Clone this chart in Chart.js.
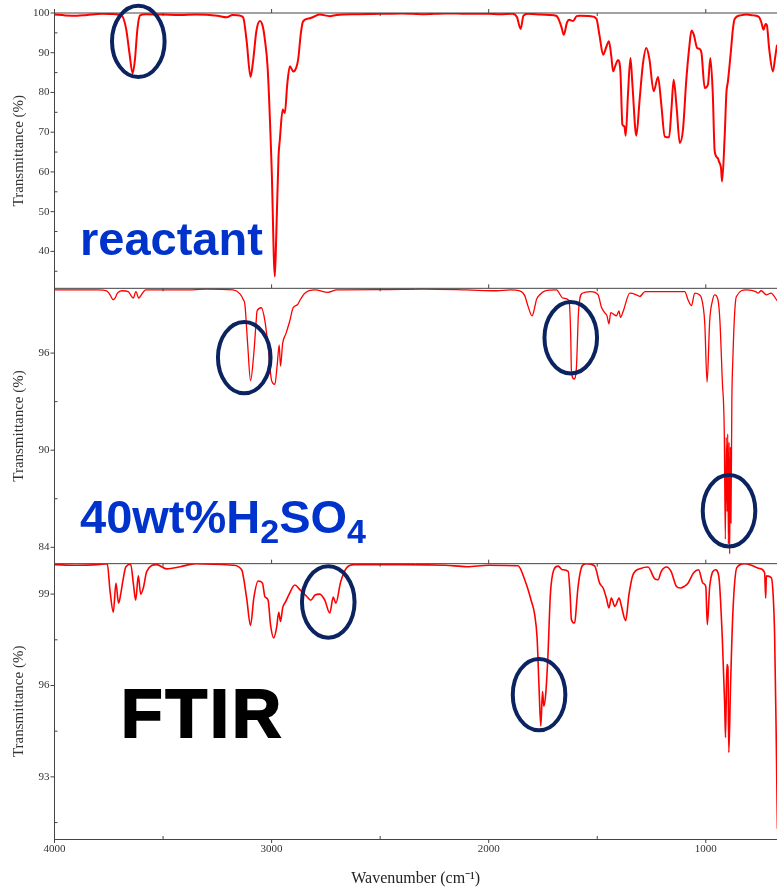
<!DOCTYPE html>
<html>
<head>
<meta charset="utf-8">
<script src="https://cdn.jsdelivr.net/npm/chart.js@4"></script>
<style>
  body { margin: 0; background: #fff; }
  #wrap { position: relative; width: 777px; height: 889px; }
  #myChart { display: block; }
  .tag { position: absolute; font-family: 'Liberation Sans', Arial, sans-serif; font-weight: bold; line-height: 1; white-space: nowrap; }
  .tag sub { font-size: 34px; vertical-align: baseline; position: relative; top: 10px; }
</style>
</head>
<body>
<div id="wrap">
  <canvas id="myChart" width="777" height="889"></canvas>
  <div class="tag" style="left:80px; top:215px; font-size:47px; color:#0033cc;">reactant</div>
  <div class="tag" style="left:80px; top:493px; font-size:47px; color:#0033cc;">40wt%H<sub>2</sub>SO<sub>4</sub></div>
  <div class="tag" style="left:121px; top:679px; font-size:68px; color:#000; letter-spacing:3px; -webkit-text-stroke:2px #000;">FTIR</div>
</div>
<script>
// tick values
const wnTicks = [4000, 3500, 3000, 2500, 2000, 1500, 1000];
const reactantTicks = [40, 50, 60, 70, 80, 90, 100];
const acidTicks = [84, 90, 96];
const ftirTicks = [93, 96, 99];

// reactant spectrum
const reactantWn = [4000, 3950, 3896, 3850, 3780, 3720, 3690, 3670, 3655, 3640, 3630, 3618, 3606, 3580, 3500, 3420, 3350, 3250, 3207, 3180, 3150, 3131, 3115, 3097, 3085, 3070, 3054, 3040, 3031, 3018, 3000, 2985, 2978, 2968, 2962, 2949, 2939, 2928, 2916, 2900, 2893, 2878, 2865, 2855, 2830, 2808, 2778, 2732, 2700, 2600, 2500, 2400, 2300, 2200, 2100, 2000, 1950, 1890, 1870, 1853, 1840, 1820, 1760, 1720, 1690, 1681, 1665, 1654, 1640, 1630, 1611, 1595, 1581, 1530, 1504, 1490, 1473, 1458, 1446, 1435, 1427, 1415, 1404, 1393, 1384, 1375, 1369, 1358, 1347, 1338, 1320, 1305, 1290, 1274, 1260, 1240, 1220, 1205, 1189, 1169, 1158, 1148, 1134, 1120, 1105, 1090, 1075, 1066, 1055, 1040, 1030, 1020, 1005, 990, 979, 968, 959, 945, 939, 930, 925, 913, 905, 898, 885, 875, 867, 840, 813, 780, 755, 745, 734, 725, 719, 708, 691, 680, 672];
const reactantT = [99.6, 99.4, 99.3, 99.5, 99.8, 99.7, 99.3, 96, 90, 84.8, 88, 96, 99.4, 99.7, 99.6, 99.5, 99.6, 99.3, 98.9, 99.5, 99.4, 98.9, 93, 83.9, 88, 95.5, 98, 96.5, 93.3, 86, 61.4, 33.7, 45, 64, 68.1, 75.7, 74.8, 82, 86.6, 85.3, 85.5, 88.2, 95, 97.9, 98.6, 99, 99.6, 99.2, 99.5, 99.7, 99.8, 99.9, 99.7, 99.9, 99.8, 99.8, 99.7, 99.8, 99, 96, 99.3, 99.8, 99.6, 99.5, 99.3, 98.8, 96.5, 94.5, 97.5, 98.3, 98, 99.2, 99.3, 99.2, 98.6, 94.5, 89.5, 91.5, 92.9, 89, 85.3, 87, 88.2, 84.9, 71.9, 71.5, 69.1, 80, 88.7, 82, 69.1, 78, 87, 91.2, 88.5, 80.3, 83.9, 77, 68.9, 68.7, 76, 83.2, 76, 67.3, 70.7, 83, 92, 95.6, 94.5, 91.2, 91, 90, 81.1, 82, 88.7, 80, 65.2, 63.5, 62.6, 61, 57.6, 69, 80, 82.8, 90, 96, 98.5, 99.4, 99.6, 99.4, 99, 97.8, 95.8, 97.2, 97, 91, 85.3, 89, 92];

// 40wt% H2SO4 spectrum
const acidWn = [4000, 3800, 3760, 3744, 3730, 3721, 3710, 3690, 3660, 3645, 3637, 3625, 3612, 3600, 3580, 3400, 3300, 3177, 3146, 3130, 3123, 3110, 3097, 3082, 3072, 3067, 3047, 3031, 3016, 3000, 2985, 2974, 2965, 2959, 2949, 2934, 2916, 2901, 2880, 2870, 2847, 2800, 2741, 2700, 2500, 2300, 2100, 1964, 1900, 1857, 1834, 1819, 1800, 1790, 1780, 1765, 1740, 1688, 1658, 1630, 1622, 1619, 1607, 1596, 1586, 1569, 1530, 1496, 1481, 1466, 1455, 1446, 1438, 1425, 1412, 1400, 1393, 1380, 1350, 1320, 1304, 1280, 1200, 1097, 1082, 1066, 1051, 1030, 1020, 1005, 994, 982, 970, 959, 944, 935, 924, 915, 910, 906, 902, 899, 896, 893, 890, 887, 884, 880, 875, 867, 859, 813, 770, 760, 745, 721, 700, 672];
const acidT = [99.9, 99.9, 99.85, 99.6, 99.3, 99.4, 99.7, 99.85, 99.8, 99.5, 99.4, 99.8, 99.4, 99.6, 99.9, 99.9, 99.95, 99.9, 99.66, 99.3, 99.0, 96.5, 94.3, 95.96, 97.8, 98.6, 98.8, 98.0, 96.4, 94.3, 94.07, 95.3, 96.5, 95.2, 96.6, 97.2, 98.0, 98.8, 99.0, 99.25, 99.7, 99.9, 99.75, 99.9, 99.92, 99.95, 99.9, 99.85, 99.9, 99.85, 99.55, 98.9, 98.3, 98.7, 99.3, 99.6, 99.85, 99.9, 99.4, 99.25, 97, 94.9, 94.4, 95.1, 98.6, 99.7, 99.8, 99.6, 98.85, 98.5, 98.3, 97.8, 98.5, 98.4, 98.3, 98.6, 98.2, 98.6, 99.7, 99.6, 99.5, 99.8, 99.8, 99.8, 99.3, 98.94, 99.7, 99.6, 99.4, 97.9, 94.2, 98.0, 99.2, 99.6, 99.3, 98, 94.3, 91.2, 84.5, 90.8, 86.2, 91, 84.2, 90.5, 83.6, 90.2, 85.5, 93, 95.75, 98.5, 99.5, 99.9, 99.8, 99.7, 99.85, 99.6, 99.7, 99.25];

// FTIR spectrum
const ftirWn = [4000, 3900, 3800, 3757, 3744, 3729, 3717, 3705, 3695, 3686, 3671, 3649, 3637, 3626, 3614, 3603, 3591, 3575, 3530, 3483, 3420, 3350, 3177, 3138, 3115, 3097, 3082, 3062, 3042, 3031, 3016, 3005, 2990, 2977, 2967, 2959, 2949, 2934, 2919, 2893, 2870, 2839, 2820, 2800, 2778, 2755, 2732, 2716, 2704, 2682, 2655, 2620, 2400, 2200, 2100, 2000, 1865, 1834, 1803, 1788, 1777, 1768, 1760, 1752, 1746, 1737, 1727, 1716, 1700, 1680, 1660, 1634, 1625, 1619, 1604, 1595, 1589, 1569, 1550, 1512, 1489, 1473, 1458, 1446, 1435, 1419, 1399, 1390, 1369, 1354, 1335, 1300, 1266, 1235, 1220, 1205, 1181, 1160, 1135, 1117, 1100, 1082, 1056, 1033, 1013, 1000, 993, 982, 955, 940, 924, 913, 909, 903, 898, 894, 886, 875, 857, 821, 790, 752, 729, 724, 721, 698, 690, 683, 675, 670];
const ftirT = [99.97, 99.95, 99.97, 100, 99.09, 98.41, 99.36, 98.7, 99.0, 99.4, 99.9, 99.98, 99.36, 98.8, 99.6, 99.0, 99.2, 99.75, 99.97, 99.83, 99.9, 100, 99.95, 99.8, 98.87, 97.97, 98.87, 99.43, 99.36, 98.92, 98.8, 98.0, 97.56, 97.9, 98.4, 98.1, 98.55, 98.77, 99.0, 99.3, 99.15, 98.93, 98.8, 98.97, 99.0, 98.8, 98.38, 98.9, 98.7, 99.4, 99.86, 99.97, 99.97, 99.95, 99.9, 99.95, 99.93, 99.47, 98.76, 98.32, 97.56, 95.92, 94.67, 95.8, 95.32, 95.75, 97.0, 98.98, 99.8, 99.92, 99.8, 99.75, 99.0, 98.16, 98.05, 98.7, 99.2, 99.93, 100, 99.93, 99.36, 99.2, 98.87, 98.55, 98.87, 98.6, 98.87, 98.65, 98.13, 98.98, 99.64, 99.84, 99.89, 99.5, 99.47, 99.75, 99.89, 99.75, 99.25, 99.2, 99.25, 99.36, 99.7, 99.8, 99.36, 99.25, 98.0, 99.25, 99.8, 99.58, 97.56, 95.38, 94.29, 96.69, 96.6, 93.8, 96.0, 98.43, 99.87, 100, 99.95, 99.84, 99.7, 98.87, 99.6, 99.54, 99.0, 97.67, 94, 91.3];

// circled bands (wavenumber, transmittance, panel)
const circled = [
  { axis: 'y1', wn: 3614, t: 92.85 },
  { axis: 'y2', wn: 3126, t: 95.72 },
  { axis: 'y2', wn: 1622, t: 96.95 },
  { axis: 'y2', wn: 893, t: 86.26 },
  { axis: 'y3', wn: 2739, t: 98.74 },
  { axis: 'y3', wn: 1768, t: 95.7 }
];

function toPoints(wn, t) {
  return wn.map((w, i) => ({ x: w, y: t[i] }));
}

const serif = 'Liberation Serif, Times New Roman, serif';

function panelAxis(min, max, tickValues) {
  return {
    type: 'linear',
    position: 'left',
    stack: 'panels',
    stackWeight: 1,
    min: min,
    max: max,
    afterBuildTicks: (s) => { s.ticks = tickValues.map((v) => ({ value: v })); },
    ticks: { padding: 5, color: '#333', font: { family: serif, size: 11 } },
    grid: { drawOnChartArea: false, drawTicks: false },
    border: { color: '#444', width: 1 },
    title: { display: true, text: 'Transmittance (%)', color: '#333', font: { family: serif, size: 15 }, padding: { top: 10, bottom: 0 } },
    afterFit: (s) => { s.width = 54.5; }
  };
}

function line(ctx, x1, y1, x2, y2) {
  ctx.beginPath();
  ctx.moveTo(x1, y1);
  ctx.lineTo(x2, y2);
  ctx.stroke();
}

const frame = {
  id: 'frame',
  afterDatasetsDraw(chart) {
    const { ctx, chartArea, scales } = chart;
    const x = scales.x;
    ctx.save();
    ctx.strokeStyle = '#444';
    ctx.lineWidth = 1;
    ['y1', 'y2', 'y3'].forEach((id) => {
      const s = scales[id];
      line(ctx, chartArea.left, s.top, chartArea.right, s.top);
      x.ticks.forEach((t) => {
        const px = x.getPixelForValue(t.value);
        const major = t.value % 1000 === 0;
        line(ctx, px, s.top, px, major ? s.top - 4 : s.top + 3);
      });
      const vals = s.ticks.map((t) => t.value);
      const step = vals[1] - vals[0];
      vals.forEach((v) => {
        const py = s.getPixelForValue(v);
        line(ctx, s.right - 4, py, s.right, py);
        const m = v - step / 2;
        if (m > s.min && m < s.max) {
          const pm = s.getPixelForValue(m);
          line(ctx, s.right, pm, s.right + 3, pm);
        }
      });
    });
    x.ticks.forEach((t) => {
      const px = x.getPixelForValue(t.value);
      const major = t.value % 1000 === 0;
      line(ctx, px, chartArea.bottom, px, major ? chartArea.bottom + 4 : chartArea.bottom - 3);
    });

    ctx.strokeStyle = '#0b2461';
    ctx.lineWidth = 4;
    circled.forEach((c) => {
      const cx = x.getPixelForValue(c.wn);
      const cy = scales[c.axis].getPixelForValue(c.t);
      ctx.beginPath();
      ctx.ellipse(cx, cy, 26.3, 35.7, 0, 0, Math.PI * 2);
      ctx.stroke();
    });
    ctx.restore();
  }
};

const ctx = document.getElementById('myChart');
new Chart(ctx, {
  type: 'line',
  data: {
    datasets: [
      { label: 'reactant', data: toPoints(reactantWn, reactantT), yAxisID: 'y1', borderColor: '#ff0000', borderWidth: 2, pointRadius: 0, cubicInterpolationMode: 'monotone' },
      { label: '40wt%H2SO4', data: toPoints(acidWn, acidT), yAxisID: 'y2', borderColor: '#ff0000', borderWidth: 1.3, pointRadius: 0, cubicInterpolationMode: 'monotone' },
      { label: 'FTIR', data: toPoints(ftirWn, ftirT), yAxisID: 'y3', borderColor: '#ff0000', borderWidth: 1.6, pointRadius: 0, cubicInterpolationMode: 'monotone' }
    ]
  },
  options: {
    responsive: false,
    animation: false,
    layout: { padding: { top: 13, left: 0, right: 0, bottom: 0 } },
    plugins: { legend: { display: false }, tooltip: { enabled: false } },
    scales: {
      x: {
        type: 'linear',
        position: 'bottom',
        reverse: true,
        min: 672,
        max: 4000,
        afterBuildTicks: (s) => { s.ticks = wnTicks.map((v) => ({ value: v })); },
        ticks: {
          autoSkip: false,
          maxRotation: 0,
          padding: 4,
          color: '#333',
          font: { family: serif, size: 11 },
          callback: (v) => (v % 1000 === 0 ? v : '')
        },
        grid: { drawOnChartArea: false, drawTicks: false },
        border: { color: '#444', width: 1 },
        title: { display: true, text: 'Wavenumber (cm\u207B\u00B9)', color: '#222', font: { family: serif, size: 16 }, padding: { top: 0, bottom: 1 } },
        afterFit: (s) => { s.height = 50; }
      },
      // stacked boxes are placed bottom-up, so the lowest panel is listed first
      y3: panelAxis(90.96, 100, ftirTicks),
      y2: panelAxis(82.99, 100, acidTicks),
      y1: panelAxis(30.7, 100, reactantTicks)
    }
  },
  plugins: [frame]
});
</script>
</body>
</html>
